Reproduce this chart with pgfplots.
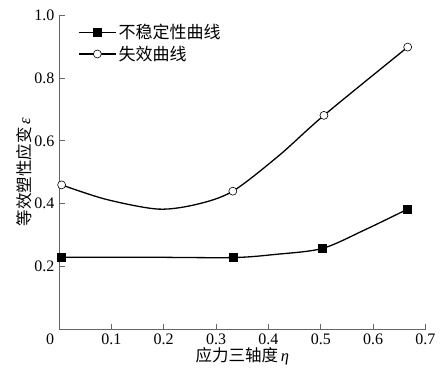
\documentclass[border=0pt]{standalone}
\usepackage{pgfplots}
\pgfplotsset{compat=1.18}
\usepackage{fontspec}
\setmainfont{Liberation Serif}
\newfontfamily\cjk{Noto Sans CJK SC}
\begin{document}
\begin{tikzpicture}[x=1pt,y=1pt]
\path[use as bounding box] (-59,-46.4) rectangle (387,329.6);
\begin{axis}[
  at={(0,0)}, anchor=south west,
  scale only axis, width=366.5pt, height=314.6pt,
  xmin=0, xmax=0.7, ymin=0, ymax=1,
  axis lines*=left,
  axis line style={draw=gray!80!black, line width=0.8pt},
  tick style={draw=gray!80!black, line width=0.8pt},
  tick align=inside, major tick length=6pt,
  xtick={0,0.1,0.2,0.3,0.4,0.5,0.6,0.7},
  xticklabels={\makebox[0pt]{\hspace*{-18pt}0},0.1,0.2,0.3,0.4,0.5,0.6,0.7},
  ytick={0.2,0.4,0.6,0.8,1.0},
  yticklabels={0.2,0.4,0.6,0.8,1.0},
  ticklabel style={font=\fontsize{16}{16}\selectfont},
  xticklabel style={yshift=-1pt},
  yticklabel style={xshift=-1pt},
  xlabel={{\cjk 应力三轴度}\,\textit{η}},
  ylabel={{\cjk 等效塑性应变}\,\textit{ε}},
  label style={font=\fontsize{16.5}{16.5}\selectfont},
  xlabel style={yshift=4pt},
  ylabel style={yshift=-4pt},
  legend style={draw=none, fill=none, at={(axis description cs:0,1)}, anchor=north west,
     xshift=17pt, yshift=-5pt, font=\fontsize{17}{17}\selectfont, row sep=2pt,
     inner sep=2pt},
  legend cell align=left,
  legend image code/.code={\draw[#1, mark=none] (0pt,0pt) -- (37pt,0pt);
     \path[#1, draw=none] plot coordinates {(18.5pt,0pt)};},
]
\addplot[black, line width=1.3pt, smooth, tension=0.5, mark=square*, mark size=4pt,
  mark options={solid, fill=black, line width=0.6pt}, mark indices={1,3,5,7}]
  coordinates {(0.005,0.230) (0.17,0.230) (0.332,0.229) (0.413,0.239) (0.503,0.258) (0.584,0.317) (0.666,0.383)};
\addlegendentry{\cjk 不稳定性曲线}
\addplot[black, line width=1.3pt, smooth, tension=0.5, mark=*, mark size=4pt,
  mark options={solid, fill=white, line width=0.6pt}, mark indices={1,5,7,8}]
  coordinates {(0.005,0.460) (0.09,0.414) (0.19,0.383) (0.265,0.399) (0.332,0.440) (0.42,0.553) (0.506,0.681) (0.666,0.898)};
\addlegendentry{\cjk 失效曲线}
\end{axis}
\end{tikzpicture}
\end{document}
